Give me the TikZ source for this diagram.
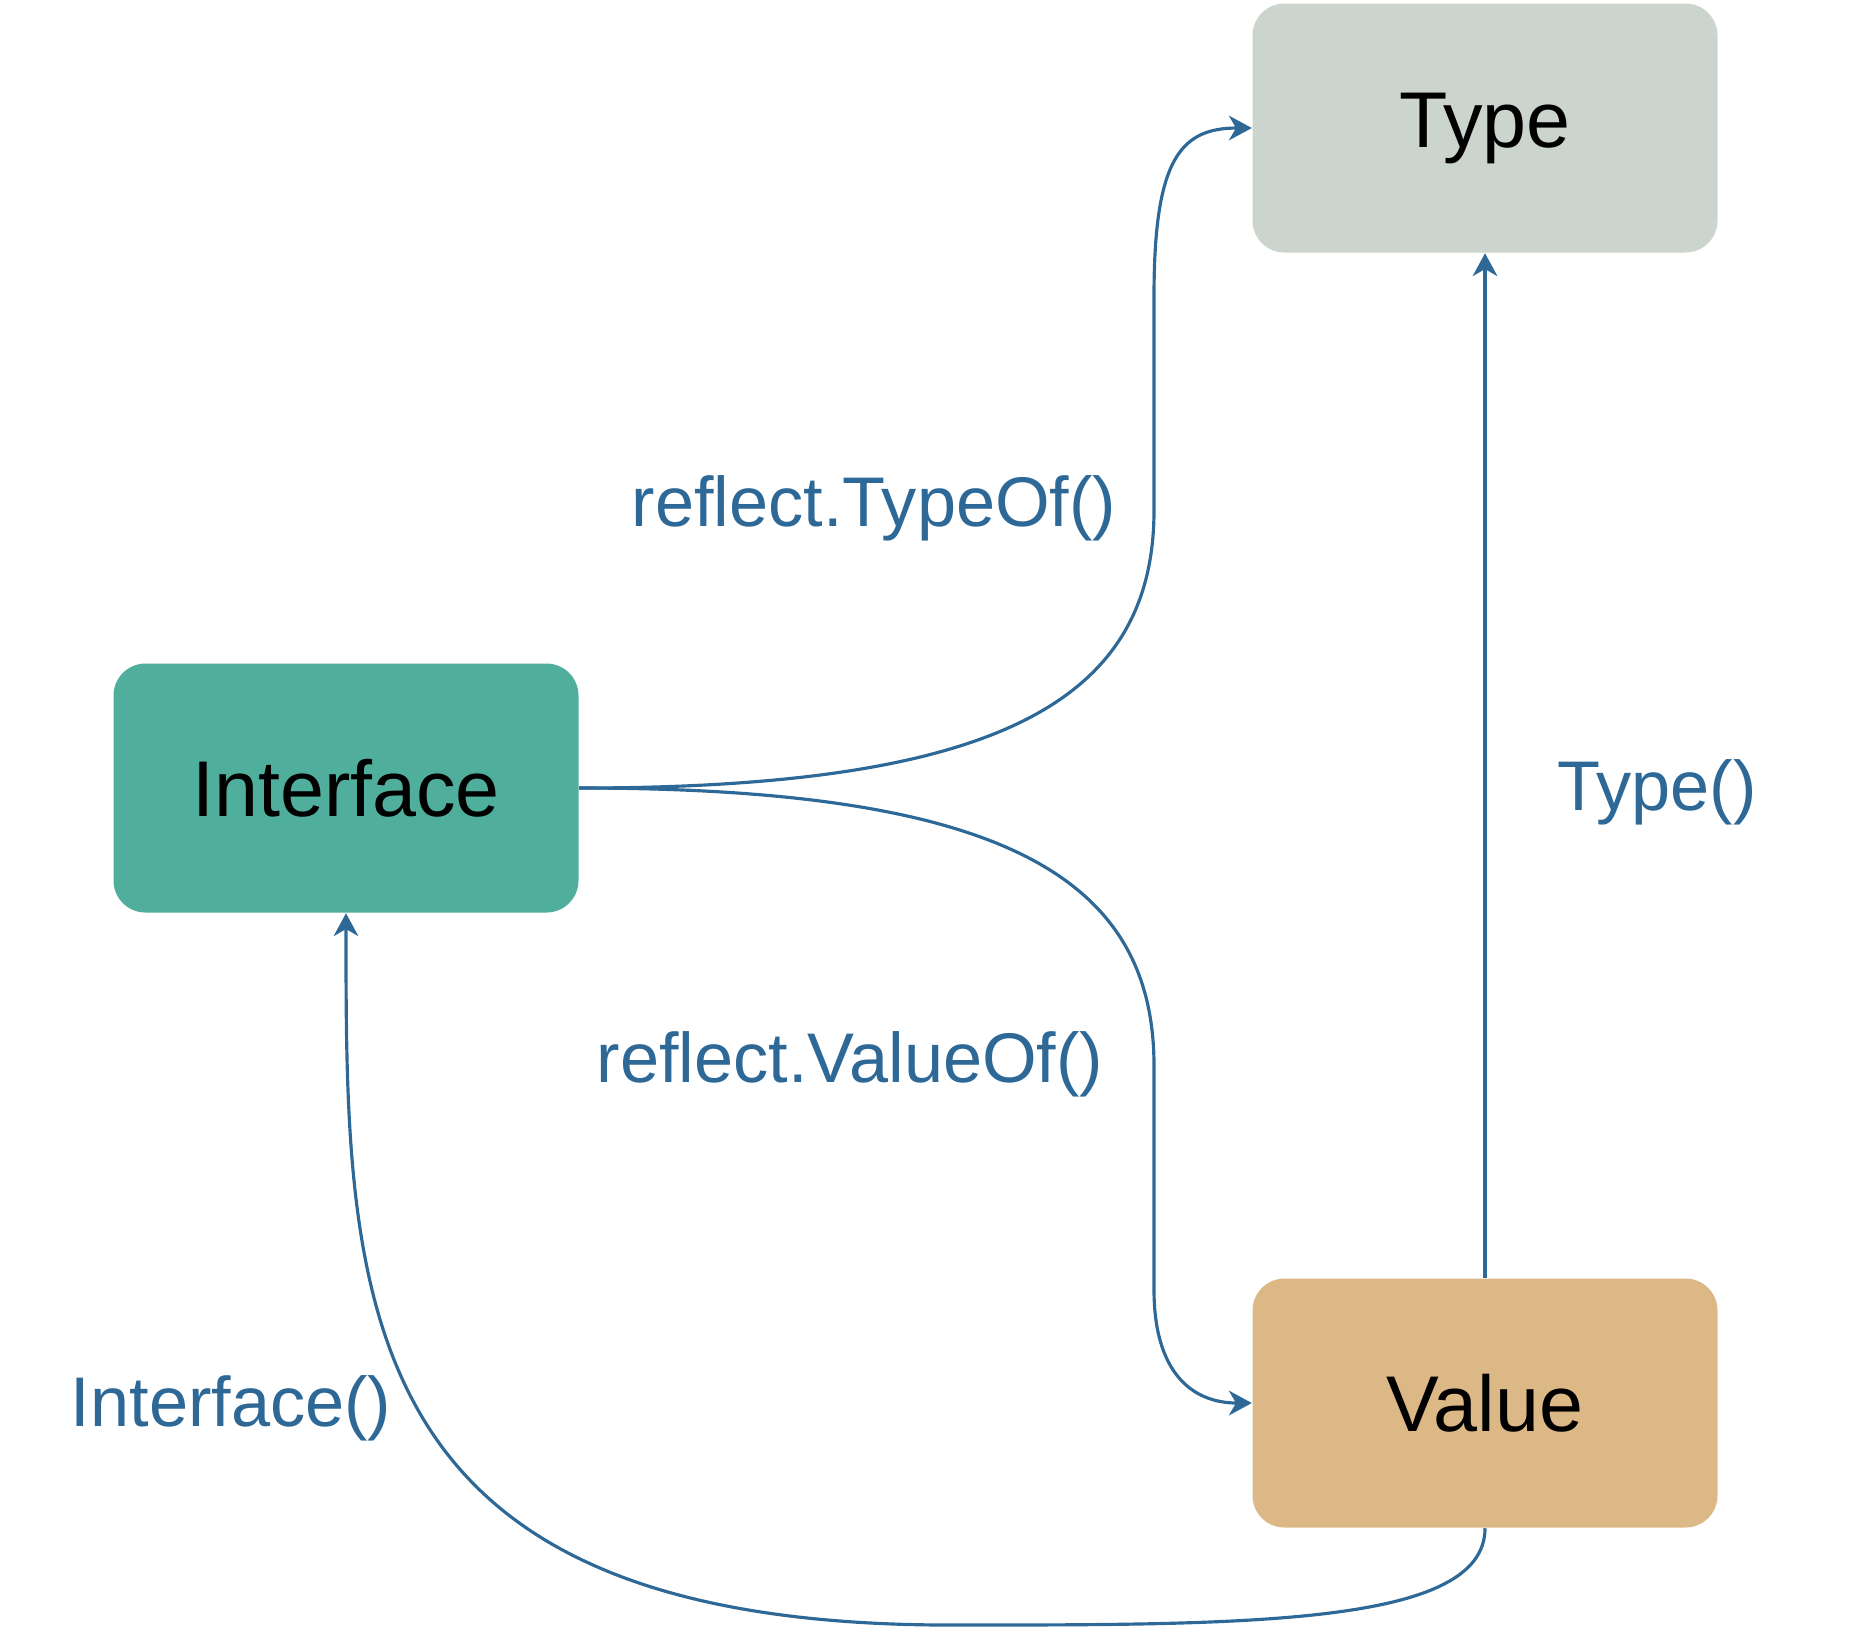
\documentclass[tikz,border=0pt]{standalone}
\usepackage{fontspec}
\setmainfont{Liberation Sans}
\usepackage{tikz}
\usetikzlibrary{arrows.meta, calc}
\usepackage{xcolor}

\definecolor{linkblue}{HTML}{2D6896}
\definecolor{typegray}{HTML}{CBD5CD}
\definecolor{ifacegreen}{HTML}{50AE9C}
\definecolor{valuetan}{HTML}{DDB887}

\tikzset{
  box/.style={rectangle, rounded corners=0.32cm, minimum width=4.65cm, minimum height=2.49cm, font=\fontsize{22.5}{26}\selectfont},
  call/.style={text=linkblue, font=\fontsize{20}{24}\selectfont},
  link/.style={draw=linkblue, line width=0.9pt, -{Stealth[length=6.5pt, width=7pt, inset=2pt]}}
}

\begin{document}
\begin{tikzpicture}
      \useasboundingbox (0,0) rectangle (18.6,-16.44);

      % Boxes Type, Interface, Value
      \node[box, fill=typegray] (type) at (14.85,-1.28) {Type};
      \node[box, fill=ifacegreen] (iface) at (3.46,-7.88) {Interface};
      \node[box, fill=valuetan] (value) at (14.85,-14.03) {Value};

      % Labels of the calls
      \node[call] (typeof) at (8.74,-5.08) {reflect.TypeOf()};
      \node[call] (valueof) at (8.50,-10.64) {reflect.ValueOf()};
      \node[call] (typecall) at (16.57,-7.92) {Type()};
      \node[call] (ifacecall) at (2.31,-14.08) {Interface()};

      % Interface to Type and Value
      \draw[link] (iface.east) .. controls ($(iface.east)+(4.21,0)$) and (11.54,-7.0) .. (11.54,-5.10)
            -- (11.54,-2.96) .. controls (11.54,-1.60) and (11.80,-1.28) .. (type.west);
      \draw[link] (iface.east) .. controls ($(iface.east)+(4.21,0)$) and (11.54,-8.76) .. (11.54,-10.66)
            -- (11.54,-12.90) .. controls (11.54,-13.70) and (11.90,-14.03) .. (value.west);

      % Value back to Type
      \draw[link] (value.north) -- (type.south);

      % Value back to Interface
      \draw[link] (value.south) .. controls ($(value.south)+(0,-0.97)$) and (12.50,-16.25) .. (9.50,-16.25)
            .. controls (3.46,-16.25) and (3.46,-13.00) .. (iface.south);
\end{tikzpicture}
\end{document}
